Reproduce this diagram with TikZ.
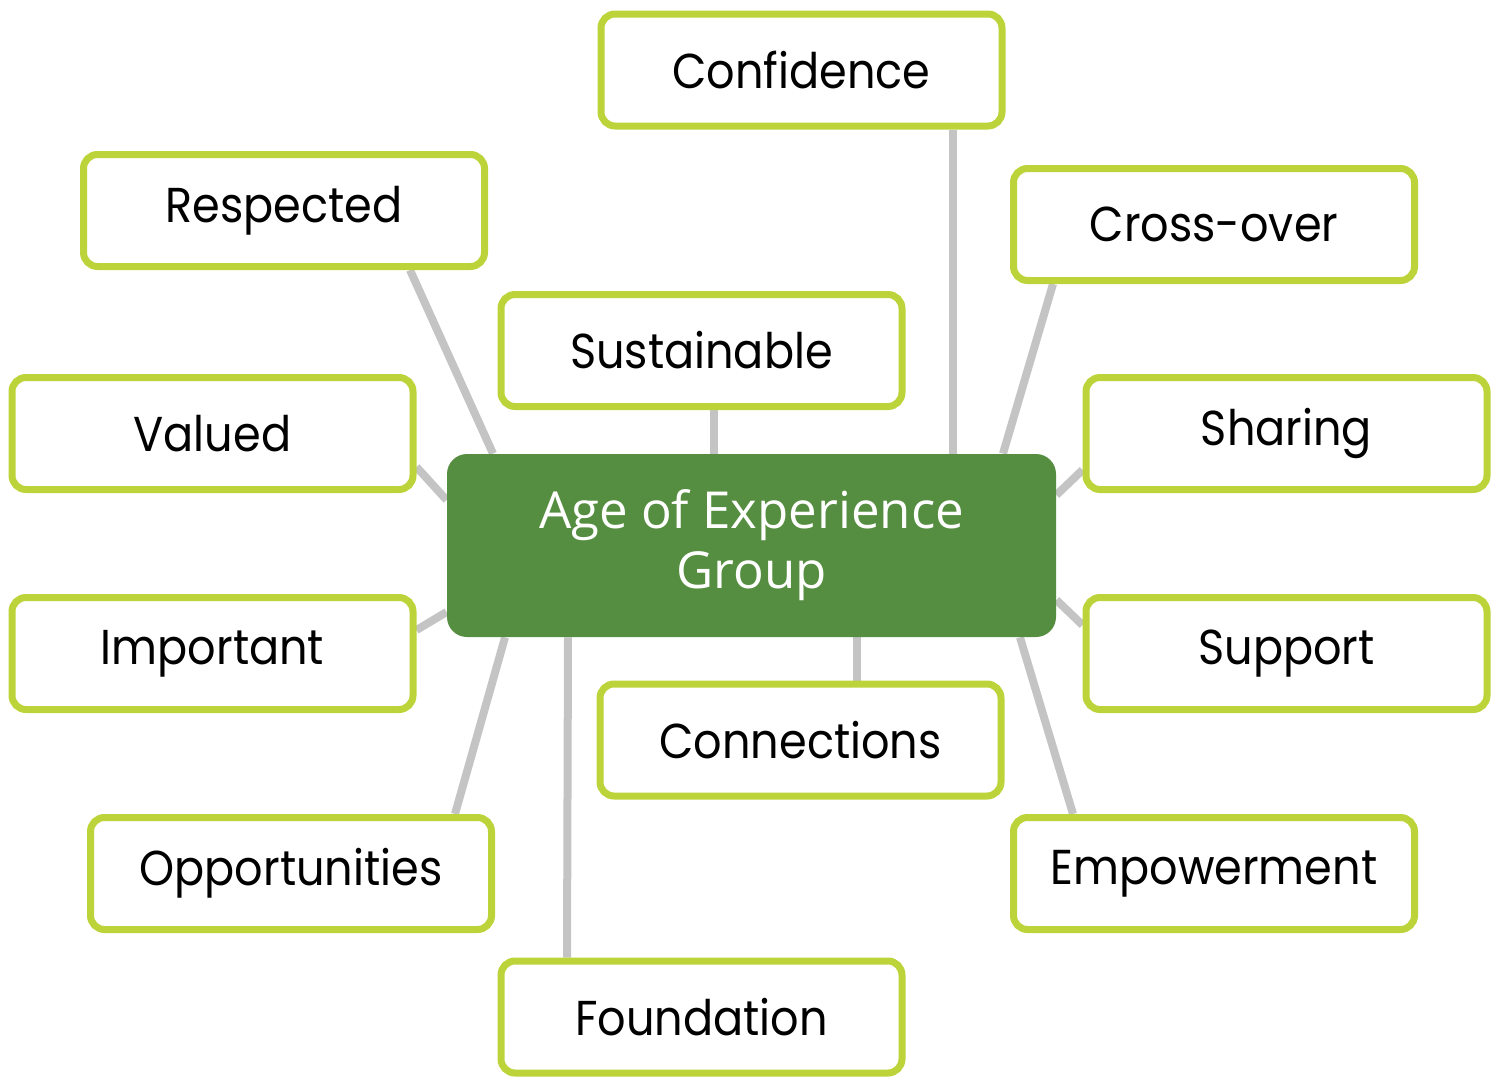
\documentclass[tikz,border=0pt]{standalone}
\usepackage{fontspec}
\usetikzlibrary{calc,backgrounds}
\newfontfamily\labfont[FakeStretch=0.91]{Poppins}
\newfontfamily\corefont{Open Sans}
\definecolor{lime}{RGB}{188,212,58}
\definecolor{leaf}{RGB}{85,142,64}
\definecolor{link}{RGB}{196,196,196}
\tikzset{
  item/.style={draw=lime, line width=3.5pt, fill=white, rounded corners=7pt,
    minimum width=200.5pt, minimum height=56pt, inner sep=0pt,
    font=\labfont\fontsize{24.5pt}{28pt}\selectfont, text=black},
  hub/.style={fill=leaf, rounded corners=10pt, minimum width=304.5pt,
    minimum height=91.5pt, inner sep=0pt, align=center, text=white,
    font=\corefont\fontsize{25.5pt}{30pt}\selectfont},
  wire/.style={draw=link, line width=4pt}
}
\begin{document}
\begin{tikzpicture}[x=0.5pt,y=-0.5pt]
\useasboundingbox (0,0) rectangle (1501,1077);
% central hub
\node[hub] (core) at (751.5,545.5) {Age of Experience\\Group};
% surrounding items
\node[item] (conf) at (801.5,70) {Confidence};
\node[item] (resp) at (284,210.5) {Respected};
\node[item] (cross) at (1214,224.5) {Cross-over};
\node[item] (sust) at (701.5,350.5) {Sustainable};
\node[item] (valu) at (212.5,433.5) {Valued};
\node[item] (shar) at (1286.5,433.5) {Sharing};
\node[item] (impo) at (212.5,653.5) {Important};
\node[item] (supp) at (1286.5,653.5) {Support};
\node[item] (conn) at (800.5,740) {Connections};
\node[item] (oppo) at (291,873.5) {Opportunities};
\node[item] (empo) at (1214,873.5) {Empowerment};
\node[item] (foun) at (701.5,1017) {Foundation};
% connectors behind the boxes
\begin{pgfonlayer}{background}
\draw[wire] ($(resp.south)+(126,0)$) -- ($(core.north)+(-258.5,0)$);
\draw[wire] ($(sust.south)+(12.5,0)$) -- ($(core.north)+(-37.5,0)$);
\draw[wire] ($(conf.south)+(151.5,0)$) -- ($(core.north)+(201.5,0)$);
\draw[wire] ($(cross.south)+(-161,0)$) -- ($(core.north)+(251.5,0)$);
\draw[wire] ($(valu.east)+(0,33.5)$) -- ($(core.west)+(0,-45.5)$);
\draw[wire] ($(shar.west)+(0,36.5)$) -- ($(core.east)+(0,-50.5)$);
\draw[wire] ($(impo.east)+(0,-23.5)$) -- ($(core.west)+(0,66.5)$);
\draw[wire] ($(supp.west)+(0,-28.5)$) -- ($(core.east)+(0,54.5)$);
\draw[wire] ($(oppo.north)+(164,0)$) -- ($(core.south)+(-246.5,0)$);
\draw[wire] ($(foun.north)+(-134.5,0)$) -- ($(core.south)+(-183.5,0)$);
\draw[wire] ($(conn.north)+(56.5,0)$) -- ($(core.south)+(105.5,0)$);
\draw[wire] ($(empo.north)+(-141,0)$) -- ($(core.south)+(268.5,0)$);
\end{pgfonlayer}
\end{tikzpicture}
\end{document}
